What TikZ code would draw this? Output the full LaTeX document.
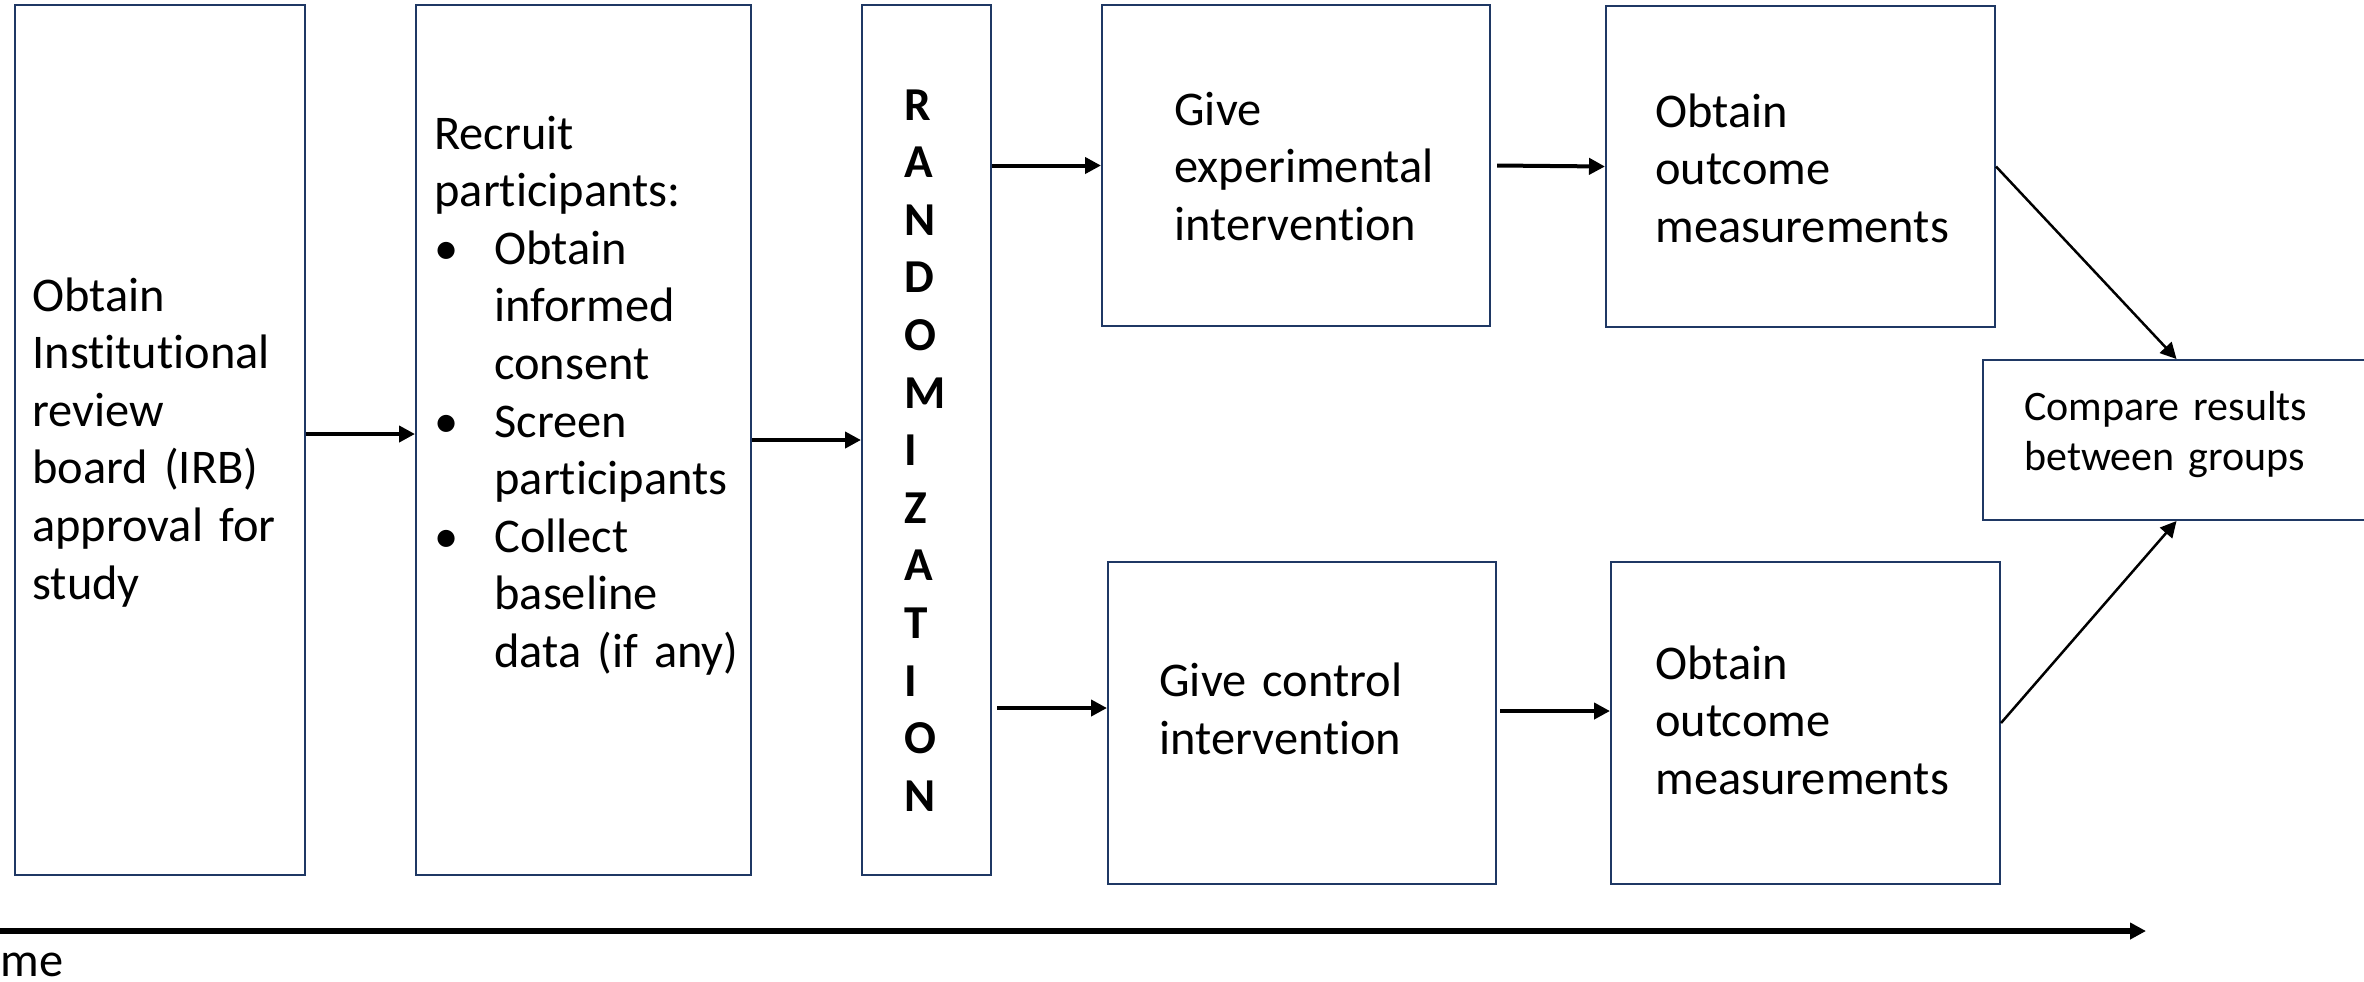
\documentclass[tikz,border=0pt]{standalone}
\usepackage{fontspec}
\setmainfont{Carlito}[Ligatures=NoCommon]
\usepackage{tikz}
\usetikzlibrary{calc,arrows.meta,positioning}
\definecolor{border}{HTML}{1F3864}
\definecolor{ink}{HTML}{000000}
\tikzset{
  box/.style={draw=border, line width=1pt, inner sep=0pt},
  arr/.style={draw=ink, line width=2pt, -{Triangle[length=8pt,width=8pt]}},
  diag/.style={draw=ink, line width=1.25pt, -{Triangle[length=8pt,width=8pt]}},
  timeline/.style={draw=ink, line width=2.75pt, -{Triangle[length=8pt,width=8pt]}},
  lab/.style={text=ink, inner sep=0pt, anchor=base west, align=left, font=\fontsize{24.2pt}{28.8pt}\selectfont},
  labs/.style={lab, font=\fontsize{21pt}{25pt}\selectfont},
  labb/.style={lab, font=\bfseries\fontsize{23.6pt}{28.8pt}\selectfont},
}
\begin{document}
\begin{tikzpicture}[x=0.5pt,y=-0.5pt]
\clip (0,0) rectangle (2364,981);
\node[box, minimum width=145pt, minimum height=435pt] (irb) at (160,440) {};
\node[box, minimum width=167.5pt, minimum height=435pt] (recruit) at (583.5,440) {};
\node[box, minimum width=64.5pt, minimum height=435pt] (rand) at (926.5,440) {};
\node[box, minimum width=194pt, minimum height=160.5pt] (exp) at (1296,165.5) {};
\node[box, minimum width=194pt, minimum height=161pt] (ctrl) at (1302,723) {};
\node[box, minimum width=194.5pt, minimum height=160.5pt] (outa) at (1800.5,166.5) {};
\node[box, minimum width=194.5pt, minimum height=161pt] (outb) at (1805.5,723) {};
\node[box, minimum width=193.5pt, minimum height=80pt] (cmp) at (2176.5,440) {};

\node[lab, text width=130pt] (irbtxt) at (32,311) {Obtain\\Institutional\\review\\board (IRB)\\approval for\\study};
\node[lab, text width=180pt] (recruittxt) at (434,149) {Recruit\\participants:\\
  \makebox[30pt][l]{\textbullet}Obtain\\\hspace*{30pt}informed\\\hspace*{30pt}consent\\
  \makebox[30pt][l]{\textbullet}Screen\\\hspace*{30pt}participants\\
  \makebox[30pt][l]{\textbullet}Collect\\\hspace*{30pt}baseline\\\hspace*{30pt}data (if any)};
\node[labb, text width=30pt] (randtxt) at (904,120) {R\\A\\N\\D\\O\\M\\I\\Z\\A\\T\\I\\O\\N};
\node[lab, text width=140pt] (exptxt) at (1174,125) {Give\\experimental\\intervention};
\node[lab, text width=140pt] (ctrltxt) at (1159,696.5) {Give control\\intervention};
\node[lab, text width=150pt] (outatxt) at (1655,127) {Obtain\\outcome\\measurements};
\node[lab, text width=150pt] (outbtxt) at (1655,679) {Obtain\\outcome\\measurements};
\node[labs, text width=150pt] (cmptxt) at (2024,420.5) {Compare results\\between groups};

\draw[arr] ($(irb.east)+(0,-6)$) -- ($(recruit.west)+(0,-6)$);
\draw[arr] (recruit.east) -- (rand.west);
\draw[arr] (rand.east |- exp.west) -- (exp.west);
\draw[arr] ($(rand.east |- ctrl.west)+(5,-15)$) -- ($(ctrl.west)+(0,-15)$);
\draw[arr] ($(exp.east)+(6,0)$) -- (outa.west);
\draw[arr] ($(ctrl.east)+(3,-12)$) -- ($(outb.west)+(0,-12)$);
\draw[diag] (outa.east) -- (cmp.north);
\draw[diag] (outb.east) -- (cmp.south);

\coordinate (t0) at (0,931);
\coordinate (t1) at (2146,931);
\draw[timeline] (t0) -- (t1);
\node[lab] (timetxt) at (0,976) {me};
\end{tikzpicture}
\end{document}
